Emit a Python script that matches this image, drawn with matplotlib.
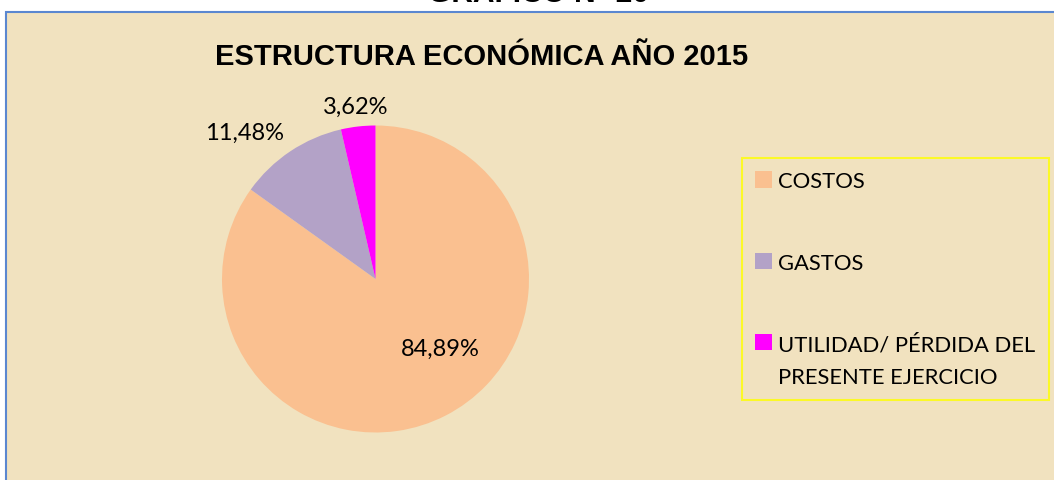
#!/usr/bin/env python3

import numpy as np
import matplotlib
matplotlib.use("Agg")
import matplotlib.pyplot as plt
from matplotlib.patches import Rectangle

# data
categories = ["COSTOS", "GASTOS", "UTILIDAD/ PÉRDIDA DEL\nPRESENTE EJERCICIO"]
values = [84.89, 11.48, 3.62]
value_labels = ["84,89%", "11,48%", "3,62%"]
colors = ["#FAC090", "#B3A2C7", "#FF00FF"]

W, H = 1054, 481
fig = plt.figure(figsize=(W / 100, H / 100), dpi=100)
fig.patch.set_facecolor("white")

# parchment chart area with blue border (partly cut off)
bg = Rectangle((6 / W, -0.01), 1.0, (H - 13) / H + 0.01, transform=fig.transFigure,
               facecolor="#F1E2BF", edgecolor="#5B87D0", linewidth=1.5, zorder=0)
fig.patches.append(bg)

# cut-off heading above the chart
fig.text(539 / W, (H - 2.5) / H, "GRÁFICO N° 20", ha="center", va="baseline",
         fontsize=21.5, fontweight="bold", family="Liberation Sans")

fig.text(482 / W, (H - 57) / H, "ESTRUCTURA ECONÓMICA AÑO 2015", ha="center", va="center",
         fontsize=21, fontweight="bold", family="Liberation Sans")

# pie axes: centre (375.5, 280) px, radius 153.5 px
cx, cy, r = 375.5, 280, 153.5
ax = fig.add_axes([(cx - r) / W, (H - cy - r) / H, 2 * r / W, 2 * r / H])
ax.set_zorder(2)
wedges, _ = ax.pie(values, colors=colors, startangle=90, counterclock=False,
                   wedgeprops=dict(linewidth=0))
ax.set_xlim(-1, 1)
ax.set_ylim(-1, 1)
ax.patch.set_alpha(0)

# data labels: (radius, angle shift from slice middle) as Excel placed them
label_r = [0.62, 1.28, 1.13]
label_shift = [16, 8, 0]
for w, lab, lr, dth in zip(wedges, value_labels, label_r, label_shift):
    th = np.deg2rad((w.theta1 + w.theta2) / 2 + dth)
    ax.text(lr * np.cos(th), lr * np.sin(th), lab, ha="center", va="center",
            fontsize=17, family="Lato", clip_on=False)

leg = fig.legend(wedges, categories, loc="upper left",
                 bbox_to_anchor=(742 / W, (H - 159) / H), frameon=True,
                 prop=dict(family="Lato", size=15.8), handlelength=0.75, handleheight=0.75,
                 handletextpad=0.3, labelspacing=2.8, borderpad=0.6,
                 borderaxespad=0, fancybox=False)
leg.set_zorder(3)
leg.get_texts()[2].set_linespacing(1.75)
# keep the last marker level with the first line of its label
h3 = leg.legend_handles[2]
h3.set_y(h3.get_y() + 13.5)
leg.get_frame().set_edgecolor("#FFFF00")
leg.get_frame().set_facecolor("none")
leg.get_frame().set_linewidth(1.5)

fig.savefig("out.png", dpi=100)
